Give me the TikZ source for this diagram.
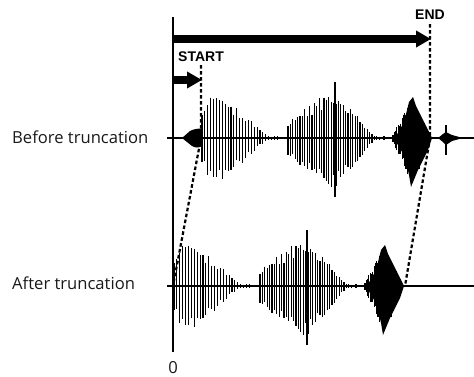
\documentclass[tikz,border=0pt]{standalone}
\usepackage{fontspec}
\setmainfont{Open Sans}
\newfontfamily\arialfont{Liberation Sans}
\usetikzlibrary{arrows.meta}
\tikzset{
  wv/.style={line width=1.15pt, black},
  axisline/.style={line width=1.2pt, black},
  baseline/.style={line width=1.4pt, black},
  guide/.style={line width=2.2pt, dash pattern=on 3.6pt off 2.4pt, black},
  bigarrow/.style={line width=8pt, -{Triangle[length=15pt,width=16pt]}},
  lbl/.style={font=\fontsize{16.6}{18}\selectfont, text=black!90, inner sep=0pt},
  tagtext/.style={font=\arialfont\bfseries\fontsize{14}{15}\selectfont, inner sep=0pt}
}
\newcommand\wburst[8]{%
  \foreach \i in {0,...,#8}{%
    \pgfmathsetmacro\wvx{#1+\i*#7}%
    \pgfmathsetmacro\wvenv{(\wvx<#2) ? (#6+(1-#6)*(\wvx-#1)/(#2-#1)) : (max(0.04,(#3-\wvx)/(#3-#2)))}%
    \pgfmathsetmacro\wvup{\wvenv*#4*(0.68+0.32*rnd)}%
    \pgfmathsetmacro\wvdn{\wvenv*#5*(0.68+0.32*rnd)}%
    \draw[wv] (\wvx,-\wvup) -- (\wvx,\wvdn);
  }}
\newcommand\mainwave{%
  \pgfmathsetseed{4242}%
  \wburst{202}{214}{270}{53}{51}{0.55}{2.9}{26}%
  \wburst{288}{334}{376}{50}{54}{0.35}{2.4}{40}%
  \draw[wv] (335,-56) -- (335,59);
  \fill (393,0) -- (398,-5) -- (404,-16) -- (409,-36) -- (413,-41) -- (416,-32) -- (425,-14) -- (432,0)
        -- (428,12) -- (418,32) -- (411,49) -- (409,37) -- (405,19) -- (398,7) -- cycle;
  \wburst{393}{412}{432}{40}{49}{0.1}{1.3}{30}%
}
\begin{document}
\begin{tikzpicture}[x=1pt,y=-1pt]
\useasboundingbox (0,0) rectangle (474,376);
% coordinates
\coordinate (axtop) at (173,17);
\coordinate (axbot) at (173,352);
\coordinate (endA) at (173,39);
\coordinate (endB) at (431,39);
\coordinate (stA) at (173,80);
\coordinate (stB) at (202,80);
\coordinate (stTop) at (201,65);
\coordinate (stMid) at (201,138);
\coordinate (stBot) at (173,286);
\coordinate (enTop) at (430,24);
\coordinate (enMid) at (430,138);
\coordinate (enBot) at (405,286);
\coordinate (b1L) at (167,138);
\coordinate (b1R) at (474,138);
\coordinate (b2L) at (167,286);
\coordinate (b2R) at (474,286);
% labels
\node[lbl, anchor=base west] (before) at (12,143.5) {Before truncation};
\node[lbl, anchor=base west] (after) at (12,289) {After truncation};
\node[lbl, anchor=base] (zero) at (173,373.5) {0};
\node[tagtext] (startlbl) at (201,57) {START};
\node[tagtext] (endlbl) at (430,15) {END};
% axis and baselines
\draw[axisline] (axtop) -- (axbot);
\draw[baseline] (b1L) -- (b1R);
\draw[baseline] (b2L) -- (b2R);
% top waveform
\begin{scope}[shift={(0,138)}]
  \fill (182,0) -- (190,-7) .. controls (194,-9) and (199,-10) .. (202,-9)
        -- (202,8) .. controls (199,10) and (195,10) .. (192,8) -- cycle;
  \mainwave
  \fill (438,0) -- (443,-4) -- (446,-6) -- (452,-3) -- (463,0) -- (452,3) -- (446,7) -- (443,4) -- cycle;
  \draw[wv] (446,-13) -- (446,17);
\end{scope}
% bottom waveform
\begin{scope}[shift={(-28,286)}]
  \mainwave
\end{scope}
% guides
\draw[guide] (stTop) -- (stMid) -- (stBot);
\draw[guide] (enTop) -- (enMid) -- (enBot);
% arrows
\draw[bigarrow] (endA) -- (endB);
\draw[bigarrow] (stA) -- (stB);
\end{tikzpicture}
\end{document}
